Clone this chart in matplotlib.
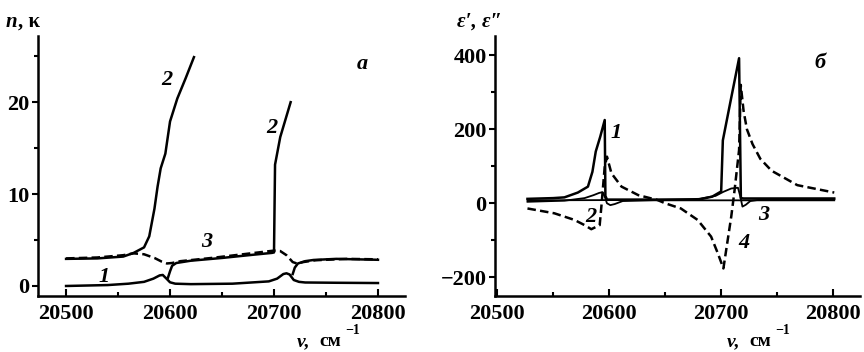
import matplotlib
matplotlib.use("Agg")
import matplotlib.pyplot as plt
from matplotlib.ticker import MultipleLocator

W, H = 864, 352
SERIF = ['Liberation Serif', 'DejaVu Serif']

# ---------------- data: panel a (n, kappa) ----------------
xticks_vals = [20500, 20600, 20700, 20800]

n_b1_x = [20500, 20530, 20555, 20565, 20575, 20580, 20585, 20588, 20591, 20595.5, 20600, 20607, 20615, 20623]
n_b1_y = [2.95, 3.0, 3.2, 3.6, 4.2, 5.4, 8.4, 10.8, 12.8, 14.4, 17.9, 20.4, 22.6, 24.9]

n_b2_x = [20598, 20600, 20602, 20606, 20620, 20650, 20680, 20698, 20700, 20701, 20706, 20716]
n_b2_y = [0.9, 1.6, 2.2, 2.5, 2.75, 3.05, 3.4, 3.6, 3.65, 13.2, 16.2, 20.0]

n_b3_x = [20718, 20720, 20723, 20730, 20738, 20760, 20800]
n_b3_y = [1.3, 2.0, 2.45, 2.7, 2.83, 2.95, 2.85]

k_x = [20500, 20540, 20560, 20575, 20584, 20590, 20593, 20597, 20600, 20605, 20620, 20660,
       20695, 20703, 20709, 20712, 20715, 20719, 20724, 20730, 20760, 20800]
k_y = [0.0, 0.1, 0.25, 0.45, 0.8, 1.15, 1.2, 0.75, 0.4, 0.25, 0.2, 0.25,
       0.5, 0.8, 1.3, 1.38, 1.25, 0.65, 0.45, 0.38, 0.35, 0.32]

d3_x = [20500, 20530, 20555, 20565, 20575, 20585, 20592, 20597, 20602, 20610, 20640, 20670,
        20700, 20706, 20712, 20718, 20722, 20728, 20740, 20770, 20800]
d3_y = [3.0, 3.1, 3.35, 3.55, 3.45, 3.05, 2.65, 2.45, 2.5, 2.7, 3.05, 3.45,
        3.85, 3.8, 3.35, 2.6, 2.45, 2.6, 2.8, 2.95, 2.9]

# ---------------- data: panel b (eps', eps'') ----------------
e1_x = [20527, 20550, 20560, 20572, 20581, 20585, 20588, 20592, 20596, 20596.6, 20598, 20620,
        20680, 20692, 20700, 20701.5, 20708, 20716, 20717.6, 20720, 20760, 20801]
e1_y = [12, 14, 16, 29, 45, 85, 140, 180, 225, 20, 10, 10,
        10, 18, 32, 170, 270, 392, 14, 13, 13, 13]

e4_x = [20527, 20551, 20569, 20578, 20584, 20591.5, 20593, 20596, 20598, 20602, 20611, 20626,
        20643, 20650, 20664, 20679, 20691, 20697, 20702, 20709, 20712, 20716, 20717.5,
        20720, 20723, 20728, 20735, 20745, 20768, 20801]
e4_y = [-14, -27, -45, -59, -70, -59, -9, 99, 126, 81, 45, 22,
        9, 0, -14, -45, -90, -135, -176, -36, 36, 144, 320,
        250, 200, 160, 120, 88, 49, 29]

e2_x = [20527, 20560, 20578, 20586, 20591, 20594, 20596, 20598, 20601, 20605, 20612, 20640, 20801]
e2_y = [4, 7, 14, 22, 28, 30, 18, 0, -5, -2, 6, 8, 8]

e3_x = [20527, 20640, 20680, 20695, 20702, 20709, 20715, 20717, 20719, 20722, 20726, 20735, 20801]
e3_y = [8, 9, 12, 20, 31, 40, 42, 20, -9, -4, 6, 10, 11]

# ---------------- figure ----------------
fig = plt.figure(figsize=(W / 100, H / 100), dpi=100)


def fx(px):
    return px / W


def fy(py):
    return 1 - py / H


axa = fig.add_axes([fx(38), fy(296), 367 / W, 260 / H])
axb = fig.add_axes([fx(495), fy(296), 365 / W, 260 / H])

LW = 1.8
DASH = (3.4, 1.7)

axa.plot(n_b1_x, n_b1_y, color='black', lw=LW)
axa.plot(n_b2_x, n_b2_y, color='black', lw=LW)
axa.plot(n_b3_x, n_b3_y, color='black', lw=LW)
axa.plot(k_x, k_y, color='black', lw=LW)
axa.plot(d3_x, d3_y, color='black', lw=LW, ls=(0, DASH))

axb.plot(e1_x, e1_y, color='black', lw=LW)
axb.plot(e2_x, e2_y, color='black', lw=1.3)
axb.plot(e3_x, e3_y, color='black', lw=1.3)
axb.plot(e4_x, e4_y, color='black', lw=LW, ls=(0, DASH))

axa.set_xlim(20473, 20826)
axa.set_ylim(-1.09, 27.2)
axb.set_xlim(20498, 20824)
axb.set_ylim(-250.5, 452)

TICK_FS = 16
for ax, ymaj, ymin in ((axa, 10, 5), (axb, 200, 100)):
    for s in ('top', 'right'):
        ax.spines[s].set_visible(False)
    for s in ('left', 'bottom'):
        ax.spines[s].set_linewidth(1.8)
    ax.set_xticks(xticks_vals)
    ax.set_xticklabels([str(v) for v in xticks_vals])
    ax.xaxis.set_minor_locator(MultipleLocator(50))
    ax.yaxis.set_minor_locator(MultipleLocator(ymin))
    ax.tick_params(axis='x', which='both', direction='in', width=1.5, pad=6)
    ax.tick_params(axis='x', which='major', length=5)
    ax.tick_params(axis='x', which='minor', length=3)
    ax.tick_params(axis='y', which='both', direction='out', width=1.5, pad=2)
    ax.tick_params(axis='y', which='major', length=4)
    ax.tick_params(axis='y', which='minor', length=3)

axa.set_yticks([0, 10, 20])
axa.set_yticklabels(['0', '10', '20'])
axb.set_yticks([-200, 0, 200, 400])
axb.set_yticklabels(['\u2212200', '0', '200', '400'])

for ax in (axa, axb):
    for lab in ax.get_xticklabels() + ax.get_yticklabels():
        lab.set_fontfamily(SERIF)
        lab.set_fontweight('bold')
        lab.set_fontsize(TICK_FS)

# curve labels
lab_kw = dict(fontfamily=SERIF, fontstyle='italic', fontweight='bold', fontsize=16,
              ha='center', va='center')
axa.text(20597, 22.4, '2', **lab_kw)
axa.text(20698, 17.2, '2', **lab_kw)
axa.text(20635, 4.8, '3', **lab_kw)
axa.text(20536.5, 1.0, '1', **lab_kw)
axa.text(20785, 24.2, 'а', **lab_kw)

axb.text(20606, 190, '1', **lab_kw)
axb.text(20584, -37, '2', **lab_kw)
axb.text(20738, -32, '3', **lab_kw)
axb.text(20720.5, -107, '4', **lab_kw)
axb.text(20788, 379, 'б', **lab_kw)

# axis titles
t_kw = dict(fontfamily=SERIF, fontweight='bold', fontsize=15, va='center', ha='left')
fig.text(fx(6), fy(22), 'n', fontstyle='italic', **t_kw)
fig.text(fx(18), fy(22), ', \u03ba', **t_kw)
fig.text(fx(457), fy(22), '\u03b5\u2032, \u03b5\u2033', fontstyle='italic', **t_kw)

x_kw = dict(fontfamily=SERIF, fontweight='bold', fontsize=14, va='center', ha='left')
for x0 in (297, 727):
    fig.text(fx(x0), fy(342), '\u03bd,', fontstyle='italic', **x_kw)
    fig.text(fx(x0 + 22), fy(342), 'см', **x_kw)
    fig.text(fx(x0 + 48), fy(330), '\u22121', fontfamily=SERIF, fontweight='bold',
             fontsize=10, va='center', ha='left')

fig.savefig('out.png', dpi=100)
